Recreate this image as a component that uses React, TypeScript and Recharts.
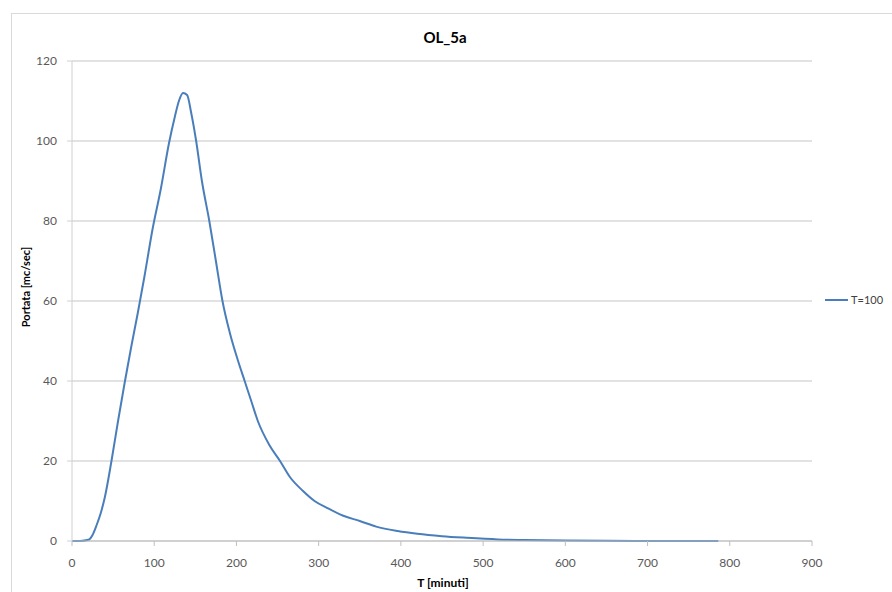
import React from "react";
import { CartesianGrid, Legend, Line, LineChart, XAxis, YAxis } from "recharts";

// tempo [minuti]
const tempi = [
  0, 10, 20, 25, 30, 35, 40, 48, 56, 64, 72, 80, 88, 98, 108, 118, 125, 130, 135, 140,
  145, 151, 158, 167, 175, 183, 192, 202, 210, 218, 226, 240, 253, 265, 281, 295, 310,
  330, 350, 370, 396, 420, 450, 480, 518, 550, 600, 650, 700, 786,
];
// portata [mc/sec], T=100
const portate = [
  0, 0, 0.3, 1.5, 4, 7, 11, 20, 30, 39.5, 48.5, 57, 66, 78, 88, 99.5, 106, 110, 112, 111.5,
  107, 100, 90, 80, 70, 60, 52, 45, 40, 35, 30, 24, 20, 16, 12.5, 10, 8.3,
  6.3, 5, 3.6, 2.5, 1.8, 1.2, 0.8, 0.4, 0.25, 0.1, 0.05, 0.02, 0,
];
const xTicks = [0, 100, 200, 300, 400, 500, 600, 700, 800, 900];
const yTicks = [0, 20, 40, 60, 80, 100, 120];

const data = tempi.map((t, i) => ({ t, q: portate[i] }));

const font = "Lato, 'Noto Sans', sans-serif";

function LegendBox() {
  return (
    <div style={{ display: "flex", alignItems: "center", fontFamily: font, fontSize: 11, color: "#404040", whiteSpace: "nowrap" }}>
      <span style={{ display: "inline-block", width: 23, height: 2, background: "#4A7EBB", marginRight: 3 }} />
      <span>T=100</span>
    </div>
  );
}

export default function App() {
  return (
    <div style={{ position: "fixed", left: 0, top: 0, width: 892, height: 592, background: "#fff", overflow: "hidden" }}>
      <div style={{ position: "absolute", left: 11, top: 13, width: 900, height: 600, border: "1px solid #d9d9d9" }} />
      <div style={{ position: "absolute", left: 0, width: 892, top: 28, textAlign: "center", fontFamily: font, fontWeight: 700, fontSize: 15, color: "#000" }}>
        <span style={{ marginLeft: -2 }}>OL_5a</span>
      </div>
      <div style={{ position: "absolute", left: 0, width: 886, top: 575, textAlign: "center", fontFamily: font, fontWeight: 700, fontSize: 12, color: "#000" }}>
        T [minuti]
      </div>
      <div style={{ position: "absolute", left: 25, top: 287, transform: "translate(-50%, -50%) rotate(-90deg)", fontFamily: font, fontWeight: 700, fontSize: 11, color: "#000", whiteSpace: "nowrap" }}>
        Portata [mc/sec]
      </div>
      <LineChart width={892} height={592} data={data} margin={{ top: 61, right: 0, bottom: 21, left: 12 }} style={{ position: "absolute", left: 0, top: 0 }}>
        <CartesianGrid vertical={false} stroke="#d9d9d9" strokeWidth={1.5} />
        <XAxis
          dataKey="t"
          type="number"
          domain={[0, 900]}
          ticks={xTicks}
          height={30}
          tick={{ fontSize: 12, fill: "#595959", fontFamily: font }}
          tickSize={5}
          tickMargin={12}
          stroke="#bfbfbf"
        />
        <YAxis
          type="number"
          domain={[0, 120]}
          ticks={yTicks}
          width={60}
          tick={{ fontSize: 12, fill: "#595959", fontFamily: font }}
          tickSize={5}
          tickMargin={10}
          stroke="#d0d0d0"
        />
        <Legend
          layout="horizontal"
          verticalAlign="middle"
          align="right"
          content={() => <LegendBox />}
          wrapperStyle={{ left: 825, top: 293, width: 80 }}
        />
        <Line dataKey="q" name="T=100" type="monotone" stroke="#4A7EBB" strokeWidth={2} dot={false} isAnimationActive={false} />
      </LineChart>
    </div>
  );
}
